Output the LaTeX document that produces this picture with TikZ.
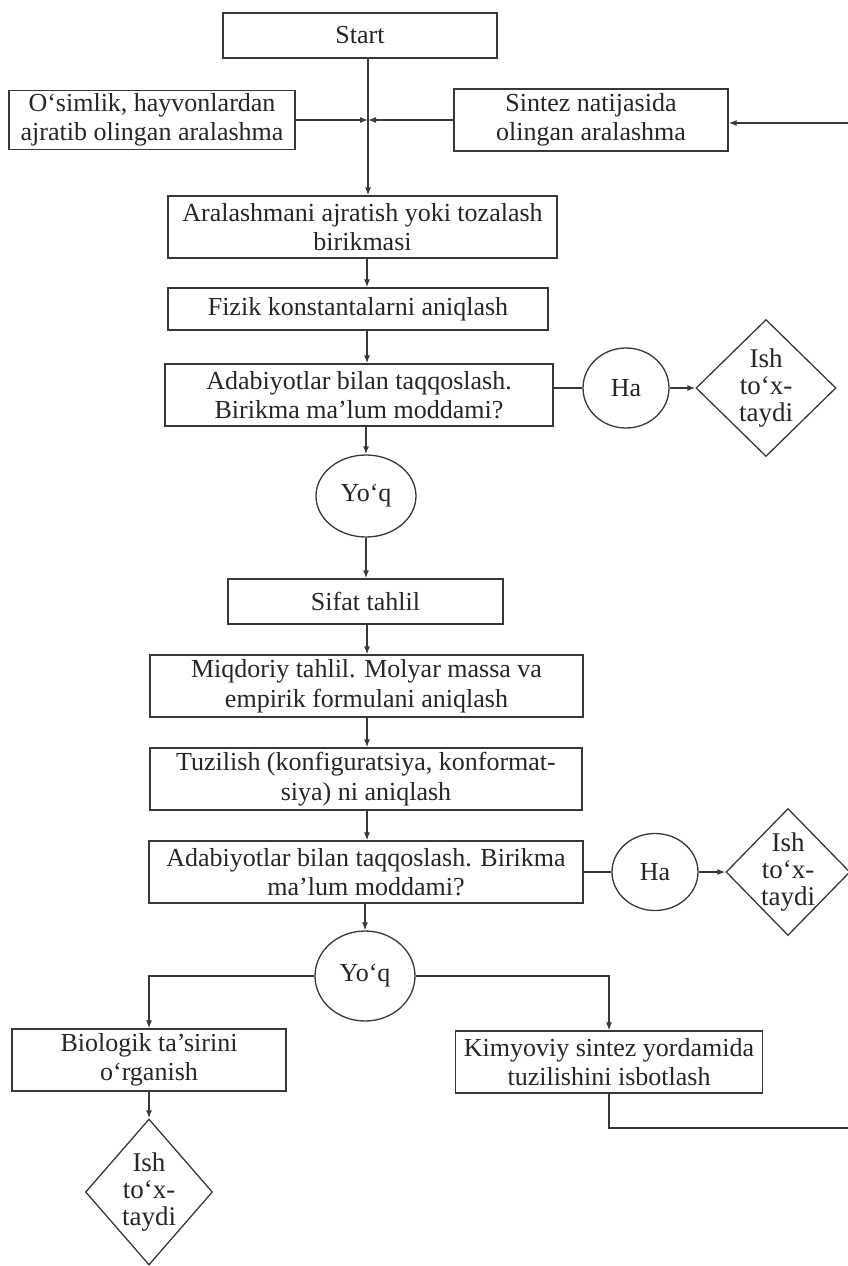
\documentclass[tikz,border=0pt]{standalone}
\usepackage{fontspec}
\setmainfont{Liberation Serif}
\usetikzlibrary{shapes.geometric,arrows.meta}
\definecolor{inkline}{HTML}{383838}
\definecolor{inktext}{HTML}{262626}
\begin{document}
\begin{tikzpicture}[x=1pt,y=-1pt,
  every node/.style={text=inktext,font=\fontsize{26}{29.5}\selectfont},
  box/.style={draw=inkline,line width=1.3pt,rectangle,inner sep=0pt,align=center},
  oval/.style={draw=inkline,line width=1.3pt,ellipse,inner sep=0pt},
  stopdiamond/.style={draw=inkline,line width=1.3pt,diamond,inner sep=0pt},
  stoptext/.style={align=center,inner sep=0pt,font=\fontsize{27}{27}\selectfont},
  conn/.style={draw=inkline,line width=1.3pt},
  arr/.style={conn,-{Latex[length=8pt,width=6pt]}},
]
\fill[white] (0,0) rectangle (847,1266);
\useasboundingbox (0,0) rectangle (847,1266);

% process boxes, decisions and end points
\node[box,minimum width=274pt,minimum height=45pt] (start) at (360,35.5) {Start};
\node[box,minimum width=286pt,minimum height=59pt] (plant) at (152,120) {O‘simlik, hayvonlardan\\ajratib olingan aralashma};
\node[box,minimum width=274pt,minimum height=62pt] (synth) at (591,120) {Sintez natijasida\\olingan aralashma};
\node[box,minimum width=389pt,minimum height=62pt] (separ) at (362.5,227) {Aralashmani ajratish yoki tozalash\\birikmasi};
\node[box,minimum width=380pt,minimum height=42pt] (phys) at (358,309) {Fizik konstantalarni aniqlash};
\node[box,minimum width=388pt,minimum height=62pt] (lit1) at (359,395) {Adabiyotlar bilan taqqoslash.\\Birikma ma’lum moddami?};
\node[oval,minimum width=86pt,minimum height=80pt] (ha1) at (626,388) {Ha};
\node[stopdiamond,minimum width=140pt,minimum height=137pt,
      label={[stoptext]center:Ish\\to‘x-\\taydi}] (stop1) at (766,388) {};
\node[oval,minimum width=100pt,minimum height=82pt] (no1) at (366,496) {Yo‘q};
\node[box,minimum width=275pt,minimum height=45pt] (qual) at (365.5,601.5) {Sifat tahlil};
\node[box,minimum width=433pt,minimum height=62pt] (quant) at (366.5,686) {Miqdoriy tahlil. Molyar massa va\\empirik formulani aniqlash};
\node[box,minimum width=432pt,minimum height=62pt] (struct) at (366,779) {Tuzilish (konfiguratsiya, konformat-\\siya) ni aniqlash};
\node[box,minimum width=434pt,minimum height=62pt] (lit2) at (366,872) {Adabiyotlar bilan taqqoslash. Birikma\\ma’lum moddami?};
\node[oval,minimum width=86pt,minimum height=77pt] (ha2) at (655,872) {Ha};
\node[stopdiamond,minimum width=124pt,minimum height=127pt,
      label={[stoptext]center:Ish\\to‘x-\\taydi}] (stop2) at (788,872) {};
\node[oval,minimum width=100pt,minimum height=90pt] (no2) at (365,976) {Yo‘q};
\node[box,minimum width=274pt,minimum height=62pt] (bio) at (149,1060) {Biologik ta’sirini\\o‘rganish};
\node[box,minimum width=307pt,minimum height=62pt] (chem) at (609,1062) {Kimyoviy sintez yordamida\\tuzilishini isbotlash};
\node[stopdiamond,minimum width=127pt,minimum height=146pt,
      label={[stoptext]center:Ish\\to‘x-\\taydi}] (stop3) at (149,1192) {};

% helper points for the trunk and the feedback loop
\coordinate (tk) at (367,0);
\coordinate (jn) at (368,120);
\coordinate (lb) at (609,1128);
\coordinate (rb) at (880,1128);
\coordinate (rt) at (880,123);

% connectors
\draw[arr] (start.south -| jn) -- (separ.north -| jn);
\draw[arr] (plant.east) -- (jn);
\draw[arr] (synth.west) -- (jn);
\draw[arr] (chem.south) -- (lb) -- (rb) -- (rt) -- (rt -| synth.east);
\draw[arr] (separ.south -| tk) -- (phys.north -| tk);
\draw[arr] (phys.south -| tk) -- (lit1.north -| tk);
\draw[conn] (lit1.east |- ha1) -- (ha1.west);
\draw[arr] (ha1.east) -- (stop1.west);
\draw[arr] (lit1.south -| no1.north) -- (no1.north);
\draw[arr] (no1.south) -- (qual.north -| no1.south);
\draw[arr] (qual.south -| tk) -- (quant.north -| tk);
\draw[arr] (quant.south -| tk) -- (struct.north -| tk);
\draw[arr] (struct.south -| tk) -- (lit2.north -| tk);
\draw[conn] (lit2.east) -- (ha2.west);
\draw[arr] (ha2.east) -- (stop2.west);
\draw[arr] (lit2.south -| no2.north) -- (no2.north);
\draw[arr] (no2.west) -| (bio.north);
\draw[arr] (no2.east) -| (chem.north);
\draw[arr] (bio.south) -- (stop3.north);
\end{tikzpicture}
\end{document}
